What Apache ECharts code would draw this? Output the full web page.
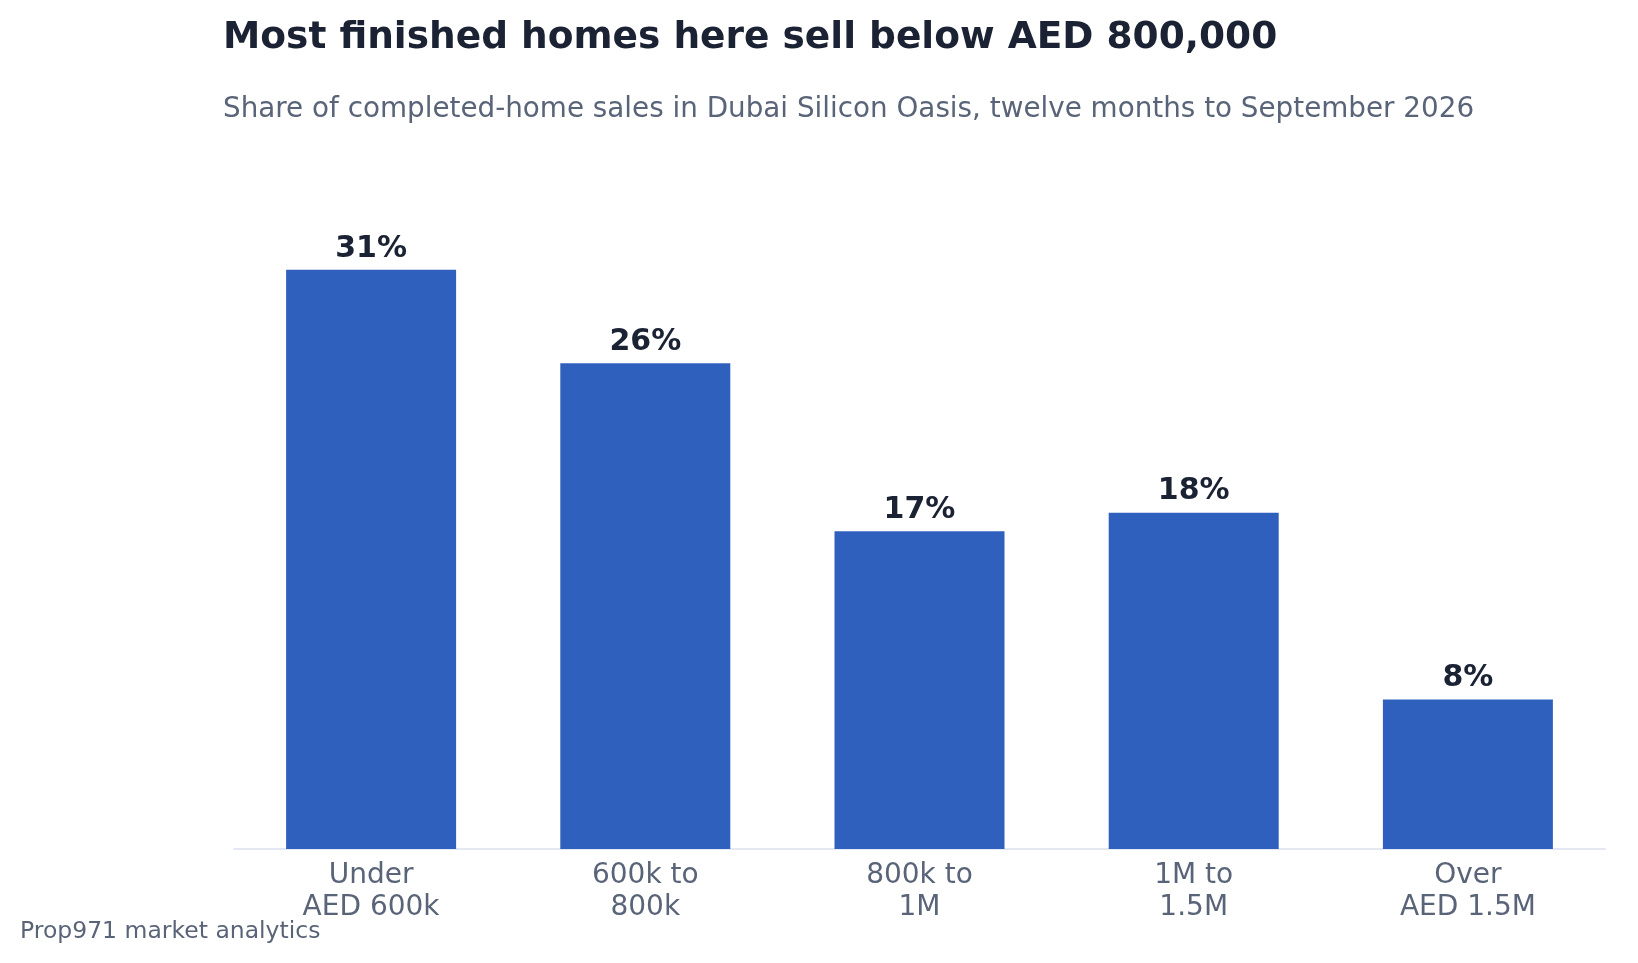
<!DOCTYPE html>
<html>
<head>
<meta charset="utf-8">
<script src="https://cdn.jsdelivr.net/npm/echarts@6/dist/echarts.min.js"></script>
<style>
  html, body { margin: 0; padding: 0; background: #ffffff; }
  #chart { width: 1638px; height: 963px; }
</style>
</head>
<body>
<div id="chart"></div>
<script>
var categories = ['Under\nAED 600k', '600k to\n800k', '800k to\n1M', '1M to\n1.5M', 'Over\nAED 1.5M'];
var shares = [31, 26, 17, 18, 8];

var chart = echarts.init(document.getElementById('chart'));

var option = {
  backgroundColor: '#ffffff',
  textStyle: { fontFamily: 'DejaVu Sans' },
  title: [
    {
      text: 'Most finished homes here sell below AED 800,000',
      left: 218,
      top: 14,
      textStyle: { fontSize: 37.5, fontWeight: 'bold', color: '#1a2233', fontFamily: 'DejaVu Sans' }
    },
    {
      text: 'Share of completed-home sales in Dubai Silicon Oasis, twelve months to September 2026',
      left: 218,
      top: 91,
      textStyle: { fontSize: 27.8, fontWeight: 'normal', color: '#5a6478', fontFamily: 'DejaVu Sans' }
    },
    {
      text: 'Prop971 market analytics',
      left: 15,
      top: 915,
      textStyle: { fontSize: 23.5, fontWeight: 'normal', color: '#5a6478', fontFamily: 'DejaVu Sans' }
    }
  ],
  grid: {
    left: 234,
    right: 33,
    top: 195,
    bottom: 114
  },
  xAxis: {
    type: 'category',
    data: categories,
    axisLine: { show: true, lineStyle: { color: '#e3e8f2', width: 2 } },
    axisTick: { show: false },
    axisLabel: {
      color: '#5a6478',
      fontSize: 28,
      lineHeight: 32,
      margin: 11,
      interval: 0,
      fontFamily: 'DejaVu Sans'
    }
  },
  yAxis: {
    type: 'value',
    min: 0,
    max: 35,
    show: false,
    splitLine: { show: false }
  },
  series: [
    {
      type: 'bar',
      data: shares,
      barWidth: '62%',
      itemStyle: { color: '#3060be' },
      label: {
        show: true,
        position: 'top',
        distance: 6,
        formatter: '{c}%',
        fontSize: 30,
        fontWeight: 'bold',
        color: '#1a2233',
        fontFamily: 'DejaVu Sans'
      }
    }
  ]
};

chart.setOption(option);
</script>
</body>
</html>
